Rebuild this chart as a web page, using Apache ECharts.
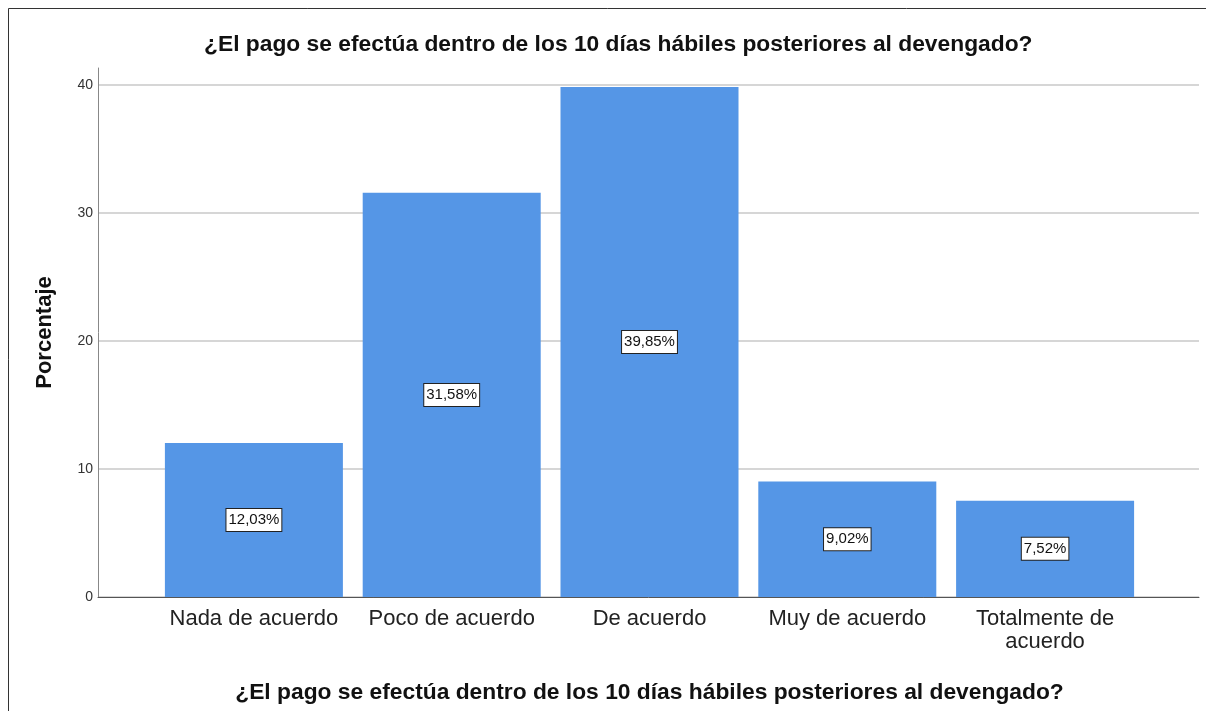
<!DOCTYPE html>
<html>
<head>
<meta charset="utf-8">
<script src="https://cdn.jsdelivr.net/npm/echarts@6/dist/echarts.min.js"></script>
<style>
  html, body { margin: 0; padding: 0; background: #fff; }
  #chart { width: 1206px; height: 711px; }
</style>
</head>
<body>
<div id="chart"></div>
<script>
// Datos del gráfico
var titulo = '¿El pago se efectúa dentro de los 10 días hábiles posteriores al devengado?';
var categorias = ['Nada de acuerdo', 'Poco de acuerdo', 'De acuerdo', 'Muy de acuerdo', 'Totalmente de\nacuerdo'];
var porcentajes = [12.03, 31.58, 39.85, 9.02, 7.52];
var ticksY = [0, 10, 20, 30, 40];

var myChart = echarts.init(document.getElementById('chart'));
var fuente = '"Liberation Sans", Arial, sans-serif';

var option = {
  animation: false,
  textStyle: { fontFamily: fuente },
  title: {
    text: titulo,
    left: 199,
    top: 28,
    textStyle: { fontSize: 22.8, fontWeight: 'bold', color: '#111', fontFamily: fuente }
  },
  graphic: [{
    type: 'polyline',
    shape: { points: [[8.5, 711], [8.5, 8.5], [1206, 8.5]] },
    style: { stroke: '#333', lineWidth: 1, fill: null }
  }],
  grid: [
    { left: 98, right: 7, top: 68, bottom: 114 },
    { left: 98, right: 7, top: 85, bottom: 114 },
    { left: 155, right: 62, top: 85, bottom: 114 }
  ],
  xAxis: [
    { gridIndex: 0, type: 'value', min: 0, max: 1, axisLine: { show: true, onZero: false, lineStyle: { color: '#555', width: 1 } },
      axisTick: { show: false }, axisLabel: { show: false }, splitLine: { show: false } },
    { gridIndex: 1, type: 'value', min: 0, max: 1, show: false },
    { gridIndex: 2, type: 'category', data: categorias,
      axisLine: { show: false }, axisTick: { show: false },
      axisLabel: { fontSize: 22, color: '#222', margin: 10, lineHeight: 23, interval: 0 },
      name: titulo, nameLocation: 'middle', nameGap: 84,
      nameTextStyle: { fontSize: 22.8, fontWeight: 'bold', color: '#111' } }
  ],
  yAxis: [
    { gridIndex: 0, type: 'value', min: 0, max: 41.33,
      axisLine: { show: true, lineStyle: { color: '#888', width: 1 } },
      axisTick: { show: false }, axisLabel: { show: false }, splitLine: { show: false },
      name: 'Porcentaje', nameLocation: 'middle', nameRotate: 90, nameGap: 42,
      nameTextStyle: { fontSize: 22, fontWeight: 'bold', color: '#111' } },
    { gridIndex: 1, type: 'value', min: ticksY[0], max: ticksY[ticksY.length - 1], interval: 10,
      axisLine: { show: false }, axisTick: { show: false },
      axisLabel: { fontSize: 14, color: '#333', margin: 5 },
      splitLine: { show: true, lineStyle: { color: '#c8c8c8', width: 1.5 } } },
    { gridIndex: 2, type: 'value', min: ticksY[0], max: ticksY[ticksY.length - 1], show: false }
  ],
  series: [{
    type: 'bar',
    xAxisIndex: 2,
    yAxisIndex: 2,
    data: porcentajes,
    barWidth: 178,
    itemStyle: { color: '#5596e6' },
    label: {
      show: true,
      position: 'inside',
      formatter: function (p) { return p.value.toFixed(2).replace('.', ',') + '%'; },
      fontSize: 15,
      color: '#111',
      backgroundColor: '#fff',
      borderColor: '#222',
      borderWidth: 1,
      padding: [4, 2, 3, 2]
    }
  }]
};

myChart.setOption(option);
</script>
</body>
</html>
